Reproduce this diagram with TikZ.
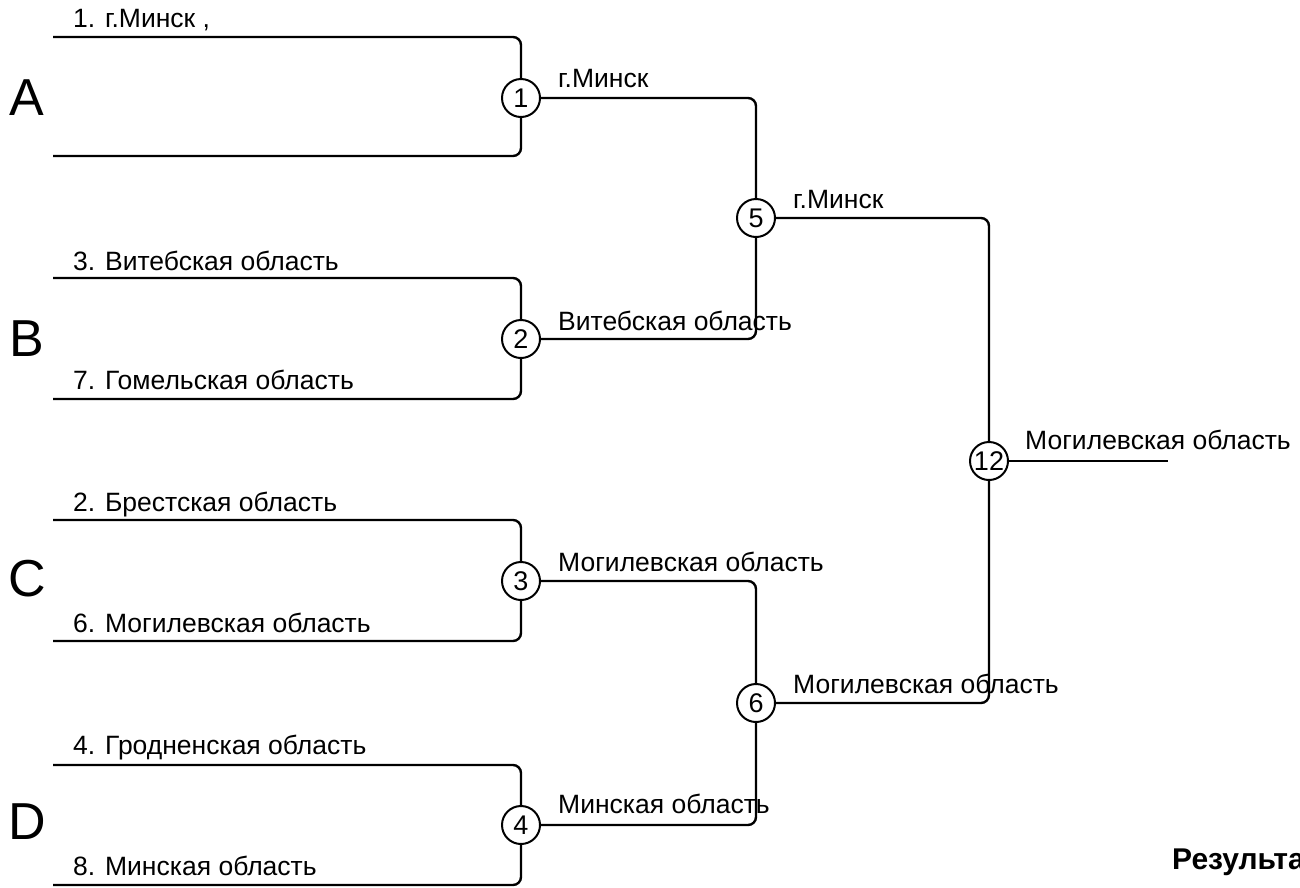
\documentclass[tikz,border=0pt]{standalone}
\usepackage{fontspec}
\setmainfont{Liberation Sans}
\begin{document}
\begin{tikzpicture}[x=1pt,y=-1pt,
  wire/.style={line width=2.4pt, rounded corners=8pt},
  rnd/.style={circle, draw, line width=2pt, minimum size=38pt, inner sep=0pt, font=\fontsize{27}{32}\selectfont},
  lbl/.style={anchor=base west, inner sep=0pt, font=\fontsize{26.5}{31}\selectfont},
  grp/.style={inner sep=0pt, font=\fontsize{52}{60}\selectfont}]
\useasboundingbox[clip] (0,0) rectangle (1300,887);
% round nodes
\node[rnd] (c1) at (521,98) {1};
\node[rnd] (c2) at (521,339) {2};
\node[rnd] (c3) at (521,581) {3};
\node[rnd] (c4) at (521,825) {4};
\node[rnd] (c5) at (756,218) {5};
\node[rnd] (c6) at (756,703) {6};
\node[rnd] (c12) at (989,461) {12};
% free ends
\coordinate (a1) at (53,37);
\coordinate (a2) at (53,156);
\coordinate (b1) at (53,278);
\coordinate (b2) at (53,399);
\coordinate (d1) at (53,520);
\coordinate (d2) at (53,641);
\coordinate (e1) at (53,765);
\coordinate (e2) at (53,885);
\coordinate (fin) at (1168,461);
% group letters
\node[grp] (gA) at (27,98) {A};
\node[grp] (gB) at (27,339) {B};
\node[grp] (gC) at (27,579) {C};
\node[grp] (gD) at (27,822) {D};
% wires
\draw[wire] (a1) -| (c1);
\draw[wire] (a2) -| (c1);
\draw[wire] (b1) -| (c2);
\draw[wire] (b2) -| (c2);
\draw[wire] (d1) -| (c3);
\draw[wire] (d2) -| (c3);
\draw[wire] (e1) -| (c4);
\draw[wire] (e2) -| (c4);
\draw[wire] (c1) -| (c5);
\draw[wire] (c2) -| (c5);
\draw[wire] (c3) -| (c6);
\draw[wire] (c4) -| (c6);
\draw[wire] (c5) -| (c12);
\draw[wire] (c6) -| (c12);
\draw[wire] (c12) -- (fin);
% labels
\node[lbl] (t1) at (73,27) {1. г.Минск ,};
\node[lbl] (t3) at (73,270) {3. Витебская область};
\node[lbl] (t7) at (73,389) {7. Гомельская область};
\node[lbl] (t2) at (73,511) {2. Брестская область};
\node[lbl] (t6) at (73,632) {6. Могилевская область};
\node[lbl] (t4) at (73,754) {4. Гродненская область};
\node[lbl] (t8) at (73,875) {8. Минская область};
\node[lbl] (w1) at (558,87) {г.Минск};
\node[lbl] (w2) at (558,330) {Витебская область};
\node[lbl] (w3) at (558,571) {Могилевская область};
\node[lbl] (w4) at (558,813) {Минская область};
\node[lbl] (w5) at (793,208) {г.Минск};
\node[lbl] (w6) at (793,693) {Могилевская область};
\node[lbl] (w12) at (1025,449) {Могилевская область};
\node[lbl, font=\fontsize{30}{36}\selectfont\bfseries] (res) at (1172,869) {Результат};
\end{tikzpicture}
\end{document}
